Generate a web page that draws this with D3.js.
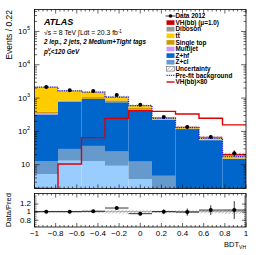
<!DOCTYPE html>
<html>
  <head>
    <title>BDT VH</title>
    <script src="https://cdn.jsdelivr.net/npm/d3@7"></script>
    <style>
      body { margin: 0; background: #fff; }
      text { font-family: "Liberation Sans", Arial, Helvetica, sans-serif; fill: #000; }
    </style>
  </head>
  <body>
    <svg width="266" height="255" id="mainsvg"></svg>
    <script>
      // bins of BDT_VH (9 bins from -1 to 1)
      const binEdges = [-1, -0.7778, -0.5556, -0.3333, -0.1111, 0.1111, 0.3333, 0.5556, 0.7778, 1];
      // background and signal samples, stacked from the bottom
      const zl        = [5.1, 12.8, 12.5, 9.0, 3.6, 1.0, 0.5, 0.3, 0.2];
      const zcl       = [7, 16, 23, 15, 8.4, 3.5, 1.0, 0.5, 0.3];
      const zhf       = [300, 730, 875, 700, 424, 210, 112, 52, 14];
      const multijet  = [20, 5, 4, 3, 2, 1, 0.5, 0.3, 0.1];
      const singleTop = [48, 50, 120, 100, 50, 7, 3, 1.5, 0.5];
      const ttbar     = [1680, 790, 430, 215, 85, 18, 8, 6, 2.5];
      const diboson   = [20, 18, 15, 14, 12, 7, 4, 3, 1];
      const vhSignal  = [0.01, 0.13, 0.8, 3.0, 5.1, 4.8, 4.0, 3.0, 1.9];
      const vhTimes80 = [1, 10.2, 63, 240, 407, 385, 323, 240, 152];
      const prefit    = [2070, 1600, 1460, 1030, 570, 240, 125, 60, 17];
      const uncFrac   = [0.04, 0.04, 0.05, 0.08, 0.06, 0.05, 0.06, 0.07, 0.1];
      const data2012  = [2090, 1660, 1590, 1200, 605, 263, 132, 66, 21.5];
      const dataErr   = [46, 41, 40, 35, 25, 16, 11.5, 8.1, 4.6];
      const ratio     = [1.0, 1.0, 1.01, 1.09, 0.95, 1.0, 0.99, 1.04, 1.04];
      const ratioErr  = [0.02, 0.025, 0.025, 0.03, 0.04, 0.06, 0.09, 0.12, 0.22];
      const xTicks    = [-1, -0.8, -0.6, -0.4, -0.2, 0, 0.2, 0.4, 0.6, 0.8, 1];
      const yMajor    = [10, 100, 1000, 10000, 100000];
      const ratioTicks = [0.8, 1, 1.2];

      const samples = [
        {key: 'zl', name: 'Z+l', color: '#99ccff', values: zl},
        {key: 'zcl', name: 'Z+cl', color: '#6699cc', values: zcl},
        {key: 'zhf', name: 'Z+hf', color: '#0066cc', values: zhf},
        {key: 'mj', name: 'Multijet', color: '#cc99ff', values: multijet},
        {key: 'st', name: 'Single top', color: '#cc9900', values: singleTop},
        {key: 'tt', name: 'tt\u0305', color: '#ffcc00', values: ttbar},
        {key: 'vv', name: 'Diboson', color: '#999999', values: diboson},
        {key: 'vh', name: 'VH(bb) (\u03bc=1.0)', color: '#cc0000', values: vhSignal}
      ];

      const svg = d3.select('#mainsvg');
      const left = 34.5, right = 246;
      const mainTop = 9.5, mainBottom = 188.5;
      const ratTop = 193.5, ratBottom = 227;

      const x = d3.scaleLinear().domain([-1, 1]).range([left, right]);
      const y = d3.scaleLog().domain([1.87, 4.4e5]).range([mainBottom, mainTop]);
      const yr = d3.scaleLinear().domain([0.62, 1.45]).range([ratBottom, ratTop]);

      const defs = svg.append('defs');
      const pat = defs.append('pattern').attr('id', 'hatch')
        .attr('patternUnits', 'userSpaceOnUse').attr('width', 2.5).attr('height', 2.5)
        .attr('patternTransform', 'rotate(45)');
      pat.append('line').attr('x1', 0).attr('y1', 0).attr('x2', 0).attr('y2', 2.5)
        .attr('stroke', '#666').attr('stroke-width', 0.7);
      defs.append('clipPath').attr('id', 'clipMain').append('rect')
        .attr('x', left).attr('y', mainTop).attr('width', right - left).attr('height', mainBottom - mainTop);
      defs.append('clipPath').attr('id', 'clipRat').append('rect')
        .attr('x', left).attr('y', ratTop).attr('width', right - left).attr('height', ratBottom - ratTop);

      // stacked histogram
      const table = binEdges.slice(0, -1).map((e, i) => {
        const row = {lo: e, hi: binEdges[i + 1]};
        samples.forEach(s => { row[s.key] = s.values[i]; });
        return row;
      });
      const stack = d3.stack().keys(samples.map(s => s.key))(table);
      const gMain = svg.append('g').attr('clip-path', 'url(#clipMain)');
      stack.forEach((layer, li) => {
        gMain.append('g').selectAll('rect').data(layer).join('rect')
          .attr('x', d => x(d.data.lo))
          .attr('width', d => x(d.data.hi) - x(d.data.lo))
          .attr('y', d => y(d[1]))
          .attr('height', d => Math.max(0, y(Math.max(d[0], 1.87)) - y(d[1])))
          .attr('fill', samples[li].color);
      });
      const totals = table.map((d, i) => samples.reduce((a, s) => a + s.values[i], 0));

      // uncertainty band
      gMain.append('g').selectAll('rect').data(table).join('rect')
        .attr('x', d => x(d.lo)).attr('width', d => x(d.hi) - x(d.lo))
        .attr('y', (d, i) => y(totals[i] * (1 + uncFrac[i])))
        .attr('height', (d, i) => y(totals[i] * (1 - uncFrac[i])) - y(totals[i] * (1 + uncFrac[i])))
        .attr('fill', 'url(#hatch)');

      const stepPath = (vals, sc) => {
        let p = '';
        vals.forEach((v, i) => {
          const cmd = i === 0 ? 'M' : 'L';
          p += `${cmd}${x(binEdges[i])},${sc(v)}L${x(binEdges[i + 1])},${sc(v)}`;
        });
        return p;
      };

      // pre-fit background
      gMain.append('path').attr('d', stepPath(prefit, y))
        .attr('fill', 'none').attr('stroke', '#2222ee').attr('stroke-width', 1.3)
        .attr('stroke-dasharray', '1.2,1');

      // VH x 80
      gMain.append('path').attr('d', stepPath(vhTimes80, v => Math.min(mainBottom, y(v))))
        .attr('fill', 'none').attr('stroke', '#dd0000').attr('stroke-width', 1.4);

      // data points
      const mids = table.map(d => (d.lo + d.hi) / 2);
      const gData = svg.append('g').attr('clip-path', 'url(#clipMain)');
      data2012.forEach((v, i) => {
        gData.append('line').attr('x1', x(mids[i])).attr('x2', x(mids[i]))
          .attr('y1', y(v - dataErr[i])).attr('y2', y(v + dataErr[i])).attr('stroke', '#000').attr('stroke-width', 0.8);
        gData.append('circle').attr('cx', x(mids[i])).attr('cy', y(v)).attr('r', 2).attr('fill', '#000');
      });

      // frames and axes
      const drawFrame = (top, bottom) => {
        svg.append('rect').attr('x', left).attr('y', top).attr('width', right - left).attr('height', bottom - top)
          .attr('fill', 'none').attr('stroke', '#000').attr('stroke-width', 0.8);
        const minor = d3.range(-1, 1.0001, 0.04);
        [[bottom, -1], [top, 1]].forEach(([yy, dir]) => {
          minor.forEach(t => {
            const major = xTicks.some(m => Math.abs(m - t) < 1e-6);
            const len = major ? 4 : 2;
            svg.append('line').attr('x1', x(t)).attr('x2', x(t))
              .attr('y1', yy).attr('y2', yy + dir * len).attr('stroke', '#000').attr('stroke-width', 0.6);
          });
        });
      };
      drawFrame(mainTop, mainBottom);
      drawFrame(ratTop, ratBottom);

      // log y ticks on both sides
      const yAxisL = d3.axisLeft(y).tickValues(yMajor).tickSize(-5).tickFormat('');
      const yAxisR = d3.axisRight(y).tickValues(yMajor).tickSize(-5).tickFormat('');
      const yMinorVals = [];
      [1, 10, 100, 1000, 10000, 100000].forEach(dec => {
        for (let k = 2; k <= 9; k++) {
          const v = k * dec;
          if (v > 1.87 && v < 4.4e5) yMinorVals.push(v);
        }
      });
      const yAxisLm = d3.axisLeft(y).tickValues(yMinorVals).tickSize(-2.5).tickFormat('');
      const yAxisRm = d3.axisRight(y).tickValues(yMinorVals).tickSize(-2.5).tickFormat('');
      [[yAxisL, left], [yAxisLm, left], [yAxisR, right], [yAxisRm, right]].forEach(([ax, xx]) => {
        const g = svg.append('g').attr('transform', `translate(${xx},0)`).call(ax);
        g.select('.domain').remove();
        g.selectAll('line').attr('stroke-width', 0.6);
      });
      yMajor.forEach(v => {
        const t = svg.append('text').attr('x', 30).attr('y', y(v) + 3).attr('text-anchor', 'end').attr('font-size', 8);
        if (v === 10) { t.text('10'); }
        else {
          t.text('10');
          t.append('tspan').attr('dy', -3.5).attr('font-size', 5.5).text(Math.round(Math.log10(v)));
        }
      });

      // ratio y ticks
      const rMinor = d3.range(0.65, 1.45, 0.05);
      const rAxL = d3.axisLeft(yr).tickValues(ratioTicks).tickSize(-4).tickFormat('');
      const rAxR = d3.axisRight(yr).tickValues(ratioTicks).tickSize(-4).tickFormat('');
      const rAxLm = d3.axisLeft(yr).tickValues(rMinor).tickSize(-2).tickFormat('');
      const rAxRm = d3.axisRight(yr).tickValues(rMinor).tickSize(-2).tickFormat('');
      [[rAxL, left], [rAxLm, left], [rAxR, right], [rAxRm, right]].forEach(([ax, xx]) => {
        const g = svg.append('g').attr('transform', `translate(${xx},0)`).call(ax);
        g.select('.domain').remove();
        g.selectAll('line').attr('stroke-width', 0.6);
      });
      ratioTicks.forEach(v => {
        svg.append('text').attr('x', 31).attr('y', yr(v) + 2.8).attr('text-anchor', 'end')
          .attr('font-size', 8).text(v === 1 ? '1' : v.toString());
      });

      // ratio band, line and points
      const gRat = svg.append('g').attr('clip-path', 'url(#clipRat)');
      gRat.selectAll('rect').data(table).join('rect')
        .attr('x', d => x(d.lo)).attr('width', d => x(d.hi) - x(d.lo))
        .attr('y', (d, i) => yr(1 + uncFrac[i] * 0.6))
        .attr('height', (d, i) => yr(1 - uncFrac[i] * 0.6) - yr(1 + uncFrac[i] * 0.6))
        .attr('fill', 'url(#hatch)');
      gRat.append('line').attr('x1', left).attr('x2', right).attr('y1', yr(1)).attr('y2', yr(1))
        .attr('stroke', '#777').attr('stroke-width', 0.6);
      ratio.forEach((r, i) => {
        gRat.append('line').attr('x1', x(binEdges[i])).attr('x2', x(binEdges[i + 1]))
          .attr('y1', yr(r)).attr('y2', yr(r)).attr('stroke', '#000').attr('stroke-width', 0.8);
        gRat.append('line').attr('x1', x(mids[i])).attr('x2', x(mids[i]))
          .attr('y1', yr(r - ratioErr[i])).attr('y2', yr(r + ratioErr[i])).attr('stroke', '#000').attr('stroke-width', 0.8);
        gRat.append('circle').attr('cx', x(mids[i])).attr('cy', yr(r)).attr('r', 2).attr('fill', '#000');
      });

      // x tick labels
      xTicks.forEach(t => {
        svg.append('text').attr('x', x(t)).attr('y', 236).attr('text-anchor', 'middle')
          .attr('font-size', 8).text(t === 0 ? '0' : (t < 0 ? '\u2212' + Math.abs(t) : t.toString()));
      });
      const xl = svg.append('text').attr('x', 246).attr('y', 247).attr('text-anchor', 'end').attr('font-size', 7.5);
      xl.append('tspan').text('BDT');
      xl.append('tspan').attr('dy', 2).attr('font-size', 5).text('VH');

      // axis titles
      svg.append('text').attr('transform', 'translate(12,10) rotate(-90)').attr('text-anchor', 'end')
        .attr('font-size', 8.5).text('Events / 0.22');
      svg.append('text').attr('transform', 'translate(11,210) rotate(-90)').attr('text-anchor', 'middle')
        .attr('font-size', 7.5).text('Data/Pred');

      // labels
      svg.append('text').attr('x', 44).attr('y', 25).attr('font-size', 9)
        .attr('font-weight', 'bold').attr('font-style', 'italic').text('ATLAS');
      const lumi = svg.append('text').attr('x', 44).attr('y', 35).attr('font-size', 6.8);
      lumi.append('tspan').text('\u221as = 8 TeV \u222bLdt = 20.3 fb');
      lumi.append('tspan').attr('dy', -2.5).attr('font-size', 4.5).text('-1');
      svg.append('text').attr('x', 44).attr('y', 44).attr('font-size', 6.3)
        .attr('font-weight', 'bold').attr('font-style', 'italic').text('2 lep., 2 jets, 2 Medium+Tight tags');
      const pt = svg.append('text').attr('x', 44).attr('y', 53.5).attr('font-size', 6.3)
        .attr('font-weight', 'bold').attr('font-style', 'italic');
      pt.append('tspan').text('p');
      pt.append('tspan').attr('dy', -2.6).attr('font-size', 4.3).text('V');
      pt.append('tspan').attr('dx', -2.6).attr('dy', 4.6).attr('font-size', 4.3).text('T');
      pt.append('tspan').attr('dy', -2).text('<120 GeV');

      // legend
      const legendItems = [
        {name: 'Data 2012', type: 'data'},
        {name: samples[7].name, type: 'box', color: samples[7].color},
        {name: samples[6].name, type: 'box', color: samples[6].color},
        {name: samples[5].name, type: 'box', color: samples[5].color},
        {name: samples[4].name, type: 'box', color: samples[4].color},
        {name: samples[3].name, type: 'box', color: samples[3].color},
        {name: samples[2].name, type: 'box', color: samples[2].color},
        {name: samples[1].name, type: 'box', color: samples[1].color},
        {name: 'Uncertainty', type: 'hatch'},
        {name: 'Pre-fit background', type: 'dotted'},
        {name: 'VH(bb)\u00d780', type: 'line'}
      ];
      const lg = svg.append('g');
      legendItems.forEach((it, i) => {
        const cy = 16 + i * 6.6;
        const sx = 166.5, sw = 8;
        if (it.type === 'data') {
          lg.append('line').attr('x1', sx - 1).attr('x2', sx + sw + 1).attr('y1', cy).attr('y2', cy).attr('stroke', '#000').attr('stroke-width', 0.8);
          lg.append('circle').attr('cx', sx + sw / 2).attr('cy', cy).attr('r', 1.8).attr('fill', '#000');
        } else if (it.type === 'box') {
          lg.append('rect').attr('x', sx).attr('y', cy - 2.3).attr('width', sw).attr('height', 4.6).attr('fill', it.color);
        } else if (it.type === 'hatch') {
          lg.append('rect').attr('x', sx).attr('y', cy - 2.3).attr('width', sw).attr('height', 4.6)
            .attr('fill', 'url(#hatch)').attr('stroke', '#555').attr('stroke-width', 0.5);
        } else if (it.type === 'dotted') {
          lg.append('line').attr('x1', sx).attr('x2', sx + sw).attr('y1', cy).attr('y2', cy)
            .attr('stroke', '#2222ee').attr('stroke-width', 1.3).attr('stroke-dasharray', '1.2,1');
        } else {
          lg.append('line').attr('x1', sx).attr('x2', sx + sw).attr('y1', cy).attr('y2', cy)
            .attr('stroke', '#dd0000').attr('stroke-width', 1.4);
        }
        lg.append('text').attr('x', 175.5).attr('y', cy + 2.2).attr('font-size', 6.4)
          .attr('font-weight', 'bold').text(it.name);
      });
    </script>
  </body>
</html>
